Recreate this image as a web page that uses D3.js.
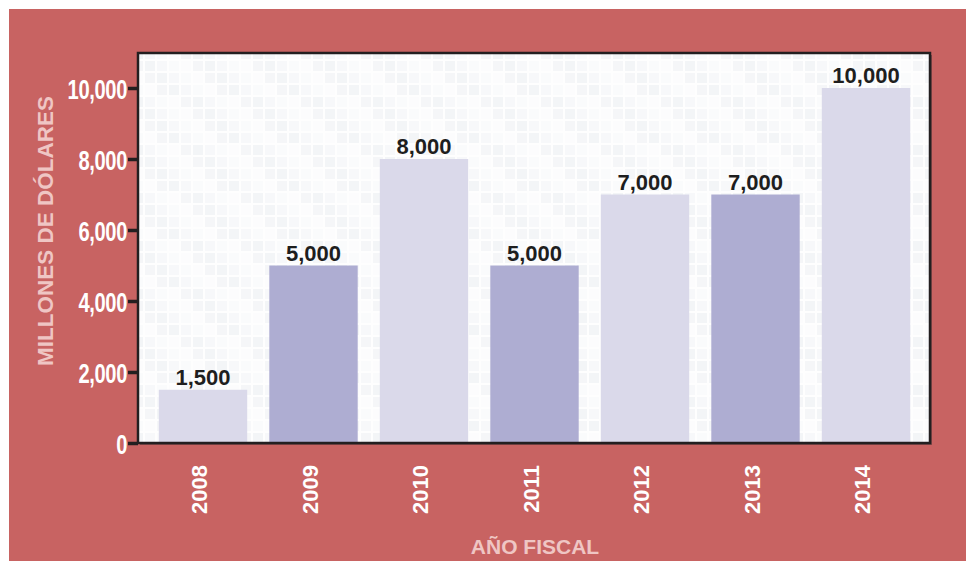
<!DOCTYPE html>
<html>
<head>
<meta charset="utf-8">
<script src="https://cdn.jsdelivr.net/npm/d3@7"></script>
<style>
    html, body { margin: 0; padding: 0; background: #ffffff; }
    svg { display: block; }
</style>
</head>
<body>
<div id="chart"></div>
<script>
// data
const years = ["2008", "2009", "2010", "2011", "2012", "2013", "2014"];
const values = [1500, 5000, 8000, 5000, 7000, 7000, 10000];
const yTicks = [0, 2000, 4000, 6000, 8000, 10000];

const width = 966, height = 562;
const plot = { left: 138, top: 53, right: 930, bottom: 443 };

const svg = d3.select("#chart").append("svg")
    .attr("width", width)
    .attr("height", height);

// red panel
svg.append("rect")
    .attr("x", 9).attr("y", 9)
    .attr("width", width - 9).attr("height", height - 10)
    .attr("fill", "#c86362");

// faint square texture for the plot background
const defs = svg.append("defs");
const pat = defs.append("pattern")
    .attr("id", "tiles")
    .attr("patternUnits", "userSpaceOnUse")
    .attr("width", 60).attr("height", 48);
pat.append("rect").attr("width", 60).attr("height", 48).attr("fill", "#fefefe");
const shades = ["#f5f6f8", "#fafbfc", "#f3f5f7", "#fcfcfd", "#f7f8fa"];
for (let r = 0; r < 4; r++) {
    for (let c = 0; c < 5; c++) {
        pat.append("rect")
            .attr("x", c * 12 + 1).attr("y", r * 12 + 1)
            .attr("width", 10).attr("height", 10)
            .attr("fill", shades[(r * 3 + c * 2) % shades.length]);
    }
}

// shadow + frame
svg.append("rect")
    .attr("x", plot.left + 2).attr("y", plot.top + 2)
    .attr("width", plot.right - plot.left).attr("height", plot.bottom - plot.top)
    .attr("fill", "#5a3a3a").attr("opacity", 0.6);
svg.append("rect")
    .attr("x", plot.left).attr("y", plot.top)
    .attr("width", plot.right - plot.left).attr("height", plot.bottom - plot.top)
    .attr("fill", "url(#tiles)");

const x = d3.scaleBand()
    .domain(years)
    .range([147.75, 921.25])
    .paddingInner(0.2)
    .paddingOuter(0.1);

const y = d3.scaleLinear()
    .domain([0, 11000])
    .range([plot.bottom, plot.bottom - 11000 * 355 / 10000]);

// bars
svg.append("g").selectAll("rect")
    .data(values)
    .join("rect")
    .attr("x", (d, i) => x(years[i]))
    .attr("y", d => y(d))
    .attr("width", x.bandwidth())
    .attr("height", d => y(0) - y(d))
    .attr("fill", (d, i) => i % 2 ? "#aeadd2" : "#dad9ea");

// value labels
svg.append("g").selectAll("text")
    .data(values)
    .join("text")
    .attr("x", (d, i) => x(years[i]) + x.bandwidth() / 2)
    .attr("y", d => y(d) - 5)
    .attr("text-anchor", "middle")
    .style("font-family", "Liberation Sans, Arial, sans-serif")
    .style("font-weight", "bold")
    .style("font-size", "22px")
    .style("fill", "#1e1e1e")
    .text(d => d3.format(",")(d));

// frame border
svg.append("rect")
    .attr("x", plot.left).attr("y", plot.top)
    .attr("width", plot.right - plot.left).attr("height", plot.bottom - plot.top)
    .attr("fill", "none")
    .attr("stroke", "#231f20")
    .attr("stroke-width", 2.5);

// y axis
const yAxis = svg.append("g")
    .attr("transform", `translate(${plot.left},0)`)
    .call(d3.axisLeft(y)
        .tickValues(yTicks)
        .tickSize(10)
        .tickPadding(1)
        .tickFormat(d3.format(",")));
yAxis.select(".domain").remove();
yAxis.selectAll(".tick line")
    .attr("stroke", "#231f20")
    .attr("stroke-width", 3.5);
// condensed look: squeeze the labels horizontally
const squeeze = 0.72;
yAxis.selectAll(".tick text")
    .attr("x", -11 / squeeze)
    .attr("dy", "0.36em")
    .attr("transform", `scale(${squeeze},1)`)
    .style("font-family", "Liberation Sans, Arial, sans-serif")
    .style("font-weight", "bold")
    .style("font-size", "28px")
    .style("letter-spacing", "-0.5px")
    .style("fill", "#ffffff");

// x labels (rotated years)
svg.append("g").selectAll("text")
    .data(years)
    .join("text")
    .attr("transform", d => `translate(${x(d) + x.bandwidth() / 2 + 4},465) rotate(-90)`)
    .attr("text-anchor", "end")
    .style("font-family", "Liberation Sans, Arial, sans-serif")
    .style("font-weight", "bold")
    .style("font-size", "22px")
    .style("fill", "#ffffff")
    .text(d => d);

// axis titles
svg.append("text")
    .attr("transform", "translate(53,231) rotate(-90)")
    .attr("text-anchor", "middle")
    .style("font-family", "Liberation Sans, Arial, sans-serif")
    .style("font-weight", "bold")
    .style("font-size", "22.5px")
    .style("fill", "#efc6c4")
    .text("MILLONES DE DÓLARES");

svg.append("text")
    .attr("x", 535)
    .attr("y", 554)
    .attr("text-anchor", "middle")
    .style("font-family", "Liberation Sans, Arial, sans-serif")
    .style("font-weight", "bold")
    .style("font-size", "21px")
    .style("fill", "#efc6c4")
    .text("AÑO FISCAL");
</script>
</body>
</html>
